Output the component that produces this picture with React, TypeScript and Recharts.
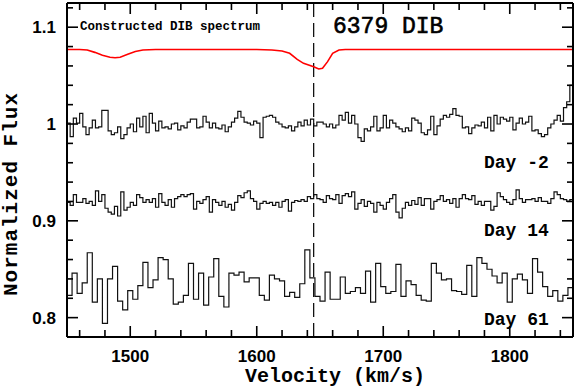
import { LineChart, Line, XAxis, YAxis, ReferenceLine } from "recharts";

// velocity grid of the binned spectra (km/s)
const velStart = 1450;
const fineStep = 2.5;
const coarseStep = 4;

// normalized flux, one value per bin
const dayMinus2 = [
  1.001, 0.987, 1.006, 1.001, 1.011, 0.997, 0.989, 0.996, 1.004, 0.996,
  0.997, 1.014, 1.014, 0.993, 0.989, 0.991, 0.997, 0.985, 0.989, 0.996,
  1.0, 0.992, 1.006, 0.997, 1.008, 0.991, 1.011, 1.001, 0.993, 1.003,
  0.996, 0.997, 0.995, 1.0, 1.001, 0.994, 0.998, 0.996, 1.002, 1.005,
  1.005, 0.996, 0.997, 1.008, 1.002, 0.996, 1.001, 0.996, 0.995, 0.999,
  0.992, 0.997, 1.002, 1.006, 1.013, 1.007, 1.002, 1.001, 0.999, 1.003,
  1.001, 0.986, 1.007, 1.008, 1.009, 1.007, 1.002, 1.0, 0.997, 0.996,
  0.998, 0.993, 0.997, 1.002, 0.998, 1.004, 0.999, 1.005, 0.998, 1.002,
  1.002, 1.0, 0.997, 1.0, 0.996, 0.999, 1.009, 1.004, 1.012, 1.001,
  1.009, 1.0, 0.986, 0.982, 0.995, 0.993, 0.997, 1.008, 0.993, 0.996,
  1.009, 0.996, 1.004, 1.001, 0.997, 0.995, 0.992, 0.996, 0.993, 1.006,
  1.004, 1.001, 0.991, 0.989, 0.994, 1.008, 0.989, 0.998, 1.005, 1.009,
  1.007, 1.01, 1.016, 1.009, 1.008, 0.996, 0.997, 0.99, 0.996, 0.999,
  0.998, 1.002, 0.996, 1.007, 0.993, 1.009, 1.0, 1.007, 1.005, 1.003,
  1.007, 0.994, 1.001, 1.006, 1.0, 1.002, 1.008, 0.993, 0.994, 0.99,
  0.987, 0.989, 0.996, 1.0, 1.004, 1.009, 1.003, 1.017, 1.023, 1.04,
];

const day14 = [
  0.919, 0.916, 0.927, 0.919, 0.919, 0.923, 0.918, 0.92, 0.916, 0.931,
  0.92, 0.927, 0.913, 0.909, 0.907, 0.915, 0.905, 0.93, 0.911, 0.914,
  0.919, 0.916, 0.927, 0.924, 0.919, 0.922, 0.919, 0.923, 0.914, 0.928,
  0.919, 0.916, 0.922, 0.914, 0.923, 0.925, 0.927, 0.925, 0.927, 0.928,
  0.912, 0.92, 0.918, 0.922, 0.925, 0.909, 0.922, 0.919, 0.916, 0.92,
  0.914, 0.917, 0.911, 0.919, 0.926, 0.924, 0.929, 0.931, 0.923, 0.92,
  0.912, 0.918, 0.92, 0.918, 0.919, 0.916, 0.919, 0.914, 0.92, 0.922,
  0.91, 0.919, 0.921, 0.92, 0.922, 0.92, 0.925, 0.923, 0.927, 0.923,
  0.922, 0.919, 0.926, 0.923, 0.922, 0.927, 0.918, 0.926, 0.928, 0.925,
  0.93, 0.912, 0.918, 0.922, 0.915, 0.92, 0.918, 0.909, 0.919, 0.916,
  0.912, 0.919, 0.923, 0.927, 0.909, 0.903, 0.913, 0.919, 0.916, 0.921,
  0.917, 0.924, 0.916, 0.923, 0.923, 0.912, 0.92, 0.922, 0.926, 0.92,
  0.922, 0.918, 0.923, 0.914, 0.923, 0.927, 0.923, 0.922, 0.926, 0.917,
  0.92, 0.916, 0.92, 0.92, 0.911, 0.915, 0.929, 0.925, 0.922, 0.919,
  0.917, 0.922, 0.932, 0.923, 0.919, 0.922, 0.922, 0.923, 0.92, 0.924,
  0.92, 0.92, 0.918, 0.923, 0.93, 0.927, 0.923, 0.922, 0.92, 0.922,
];

const day61 = [
  0.823, 0.846, 0.825, 0.836, 0.867, 0.816, 0.84, 0.794, 0.84, 0.853,
  0.817, 0.808, 0.828, 0.819, 0.833, 0.857, 0.831, 0.839, 0.862, 0.86,
  0.84, 0.814, 0.816, 0.823, 0.856, 0.819, 0.846, 0.813, 0.842, 0.861,
  0.822, 0.811, 0.846, 0.844, 0.847, 0.837, 0.841, 0.841, 0.823, 0.818,
  0.844, 0.84, 0.838, 0.822, 0.826, 0.821, 0.835, 0.87, 0.841, 0.822,
  0.817, 0.847, 0.819, 0.819, 0.842, 0.825, 0.827, 0.831, 0.825, 0.848,
  0.816, 0.856, 0.832, 0.825, 0.827, 0.855, 0.822, 0.838, 0.834, 0.823,
  0.818, 0.817, 0.856, 0.846, 0.839, 0.84, 0.828, 0.827, 0.824, 0.854,
  0.822, 0.862, 0.856, 0.85, 0.843, 0.836, 0.846, 0.816, 0.84, 0.845,
  0.839, 0.825, 0.861, 0.847, 0.832, 0.822, 0.828, 0.817, 0.823, 0.831,
];

// constructed DIB model (red curve)
const modelVel = [
  1450, 1460, 1466, 1472, 1478, 1484, 1488, 1492, 1498, 1504, 1510, 1520,
  1600, 1612, 1620, 1626, 1632, 1637, 1645, 1649, 1652, 1656, 1660, 1665, 1670, 1850,
];
const modelFlux = [
  1.077, 1.077, 1.0765, 1.074, 1.071, 1.069, 1.0685, 1.069, 1.072, 1.075, 1.0765, 1.077,
  1.077, 1.0765, 1.0755, 1.073, 1.0668, 1.0627, 1.0592, 1.0568, 1.0575, 1.0644, 1.073, 1.0764, 1.077, 1.077,
];

const dibVelocity = 1645;

const xTicks = [
  1460, 1480, 1500, 1520, 1540, 1560, 1580, 1600, 1620, 1640,
  1660, 1680, 1700, 1720, 1740, 1760, 1780, 1800, 1820, 1840,
];
const xLabels = [1500, 1600, 1700, 1800];
const yTicks = [
  0.78, 0.8, 0.82, 0.84, 0.86, 0.88, 0.9, 0.92, 0.94,
  0.96, 0.98, 1, 1.02, 1.04, 1.06, 1.08, 1.1, 1.12,
];
const yLabels = [0.8, 0.9, 1, 1.1];

const toSteps = (vals: number[], step: number) => {
  const rows = vals.map((f, i) => ({ v: velStart + i * step, f }));
  rows.push({ v: velStart + vals.length * step, f: vals[vals.length - 1] });
  return rows;
};

const modelData = modelVel.map((v, i) => ({ v, f: modelFlux[i] }));

const tickFont = { fontFamily: "Liberation Sans", fontWeight: 700, fontSize: 17 };

const BottomTick = (props: any) => {
  const { x, y, payload } = props;
  const major = xLabels.includes(payload.value);
  return (
    <g>
      <line x1={x} y1={y} x2={x} y2={y - (major ? 11 : 7)} stroke="#000" strokeWidth={1.6} />
      {major && (
        <text x={x} y={y + 25} textAnchor="middle" fill="#000" {...tickFont}>
          {payload.value}
        </text>
      )}
    </g>
  );
};

const TopTick = (props: any) => {
  const { x, y, payload } = props;
  const major = xLabels.includes(payload.value);
  return <line x1={x} y1={y} x2={x} y2={y + (major ? 11 : 7)} stroke="#000" strokeWidth={1.6} />;
};

const LeftTick = (props: any) => {
  const { x, y, payload } = props;
  const major = yLabels.includes(payload.value);
  return (
    <g>
      <line x1={x} y1={y} x2={x + (major ? 11 : 6)} y2={y} stroke="#000" strokeWidth={1.6} />
      {major && (
        <text x={x - 11} y={y + 6} textAnchor="end" fill="#000" {...tickFont}>
          {payload.value}
        </text>
      )}
    </g>
  );
};

const RightTick = (props: any) => {
  const { x, y, payload } = props;
  const major = yLabels.includes(payload.value);
  return <line x1={x} y1={y} x2={x - (major ? 11 : 6)} y2={y} stroke="#000" strokeWidth={1.6} />;
};

const mono = "Liberation Mono";

export default function App() {
  return (
    <div style={{ position: "absolute", left: 0, top: 0, width: 574, height: 388, background: "#fff" }}>
      <LineChart width={574} height={388} margin={{ top: 0, right: 0, bottom: 0, left: 7 }}>
        <XAxis
          xAxisId={0}
          type="number"
          dataKey="v"
          domain={[1450, 1850]}
          ticks={xTicks}
          interval={0}
          height={51}
          tickSize={0}
          tickMargin={0}
          tick={<BottomTick />}
          axisLine={{ stroke: "#000", strokeWidth: 2 }}
          tickLine={false}
          allowDataOverflow
        />
        <XAxis
          xAxisId="top"
          orientation="top"
          type="number"
          dataKey="v"
          domain={[1450, 1850]}
          ticks={xTicks}
          interval={0}
          height={3}
          tickSize={0}
          tickMargin={0}
          tick={<TopTick />}
          axisLine={{ stroke: "#000", strokeWidth: 2 }}
          tickLine={false}
          allowDataOverflow
        />
        <YAxis
          yAxisId={0}
          type="number"
          domain={[0.78, 1.125]}
          ticks={yTicks}
          interval={0}
          width={60}
          tickSize={0}
          tickMargin={0}
          tick={<LeftTick />}
          axisLine={{ stroke: "#000", strokeWidth: 2 }}
          tickLine={false}
          allowDataOverflow
        />
        <YAxis
          yAxisId="right"
          orientation="right"
          type="number"
          domain={[0.78, 1.125]}
          ticks={yTicks}
          interval={0}
          width={1}
          tickSize={0}
          tickMargin={0}
          tick={<RightTick />}
          axisLine={{ stroke: "#000", strokeWidth: 2 }}
          tickLine={false}
          allowDataOverflow
        />
        <ReferenceLine x={dibVelocity} stroke="#000" strokeWidth={1.2} strokeDasharray="14 6" />
        <Line
          data={toSteps(dayMinus2, fineStep)}
          dataKey="f"
          type="stepAfter"
          stroke="#111"
          strokeWidth={1.2}
          dot={false}
          isAnimationActive={false}
        />
        <Line
          data={toSteps(day14, fineStep)}
          dataKey="f"
          type="stepAfter"
          stroke="#111"
          strokeWidth={1.2}
          dot={false}
          isAnimationActive={false}
        />
        <Line
          data={toSteps(day61, coarseStep)}
          dataKey="f"
          type="stepAfter"
          stroke="#111"
          strokeWidth={1.2}
          dot={false}
          isAnimationActive={false}
        />
        <Line
          data={modelData}
          dataKey="f"
          type="linear"
          stroke="#ff0000"
          strokeWidth={1.6}
          dot={false}
          isAnimationActive={false}
        />
      </LineChart>
      <svg width={574} height={388} style={{ position: "absolute", left: 0, top: 0, pointerEvents: "none" }}>
        <text x={80} y={30} fontFamily={mono} fontWeight={700} fontSize={12.5} fill="#000">
          Constructed DIB spectrum
        </text>
        <text x={333} y={33} fontFamily={mono} fontSize={23} fill="#000" stroke="#000" strokeWidth={0.6}>
          6379 DIB
        </text>
        <text x={484} y={168} fontFamily={mono} fontWeight={700} fontSize={18} fill="#000">
          Day -2
        </text>
        <text x={484} y={236} fontFamily={mono} fontWeight={700} fontSize={18} fill="#000">
          Day 14
        </text>
        <text x={484} y={325} fontFamily={mono} fontWeight={700} fontSize={18} fill="#000">
          Day 61
        </text>
        <text x={335} y={382} textAnchor="middle" fontFamily={mono} fontWeight={700} fontSize={20} fill="#000">
          Velocity (km/s)
        </text>
        <text
          x={17}
          y={194}
          textAnchor="middle"
          transform="rotate(-90 17 194)"
          fontFamily={mono}
          fontWeight={700}
          fontSize={21}
          letterSpacing={1}
          fill="#000"
        >
          Normalized Flux
        </text>
      </svg>
    </div>
  );
}
